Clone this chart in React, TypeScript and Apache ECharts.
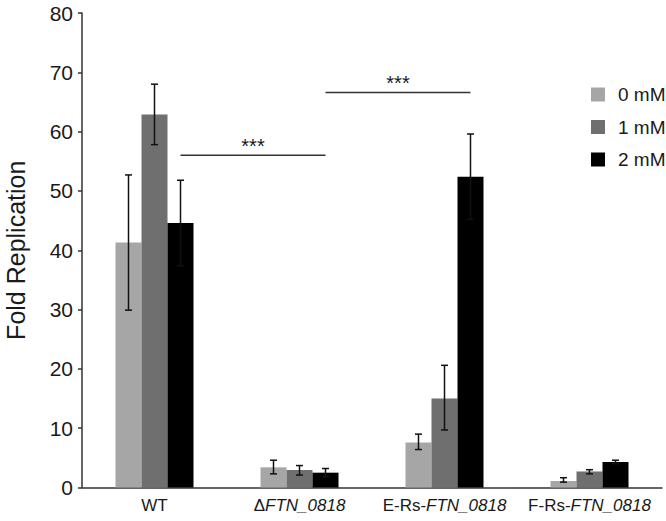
import React, { useEffect, useRef } from "react";
import * as echarts from "echarts";

const categories = ["WT", "ΔFTN_0818", "E-Rs-FTN_0818", "F-Rs-FTN_0818"];
const seriesNames = ["0 mM", "1 mM", "2 mM"];
const colors = ["#a6a6a6", "#6f6f6f", "#000000"];

const values0 = [41.3, 3.4, 7.6, 1.1];
const values1 = [62.9, 2.95, 15.0, 2.7];
const values2 = [44.6, 2.5, 52.4, 4.3];

const errLow0 = [29.9, 2.3, 6.4, 0.9];
const errHigh0 = [52.7, 4.6, 9.0, 1.65];
const errLow1 = [57.8, 2.1, 9.7, 2.3];
const errHigh1 = [68.0, 3.7, 20.6, 3.0];
const errLow2 = [37.4, 1.8, 45.2, 4.0];
const errHigh2 = [51.8, 3.2, 59.6, 4.6];

// [from category, to category, y level]
const sigLines = [
  [0, 1, 56],
  [1, 2, 66.6],
];
const sigLabel = "***";

const yTicks = { min: 0, max: 80, interval: 10 };

const BAR_W = 26;
const FONT = "'Liberation Sans', Arial, sans-serif";
const TXT = "#1a1a1a";

export default function App() {
  const ref = useRef<HTMLDivElement>(null);

  useEffect(() => {
    if (!ref.current) return;
    const chart = echarts.init(ref.current, undefined, { renderer: "svg" });

    const values = [values0, values1, values2];
    const lows = [errLow0, errLow1, errLow2];
    const highs = [errHigh0, errHigh1, errHigh2];

    const barSeries = seriesNames.map((name, i) => ({
      name,
      type: "bar",
      data: values[i],
      barWidth: BAR_W,
      barGap: "0%",
      itemStyle: { color: colors[i] },
      z: 2,
    }));

    const errSeries = seriesNames.map((name, i) => ({
      name: name + " err",
      type: "custom",
      z: 5,
      data: categories.map((_, c) => [c, lows[i][c], highs[i][c]]),
      renderItem: (params: any, api: any) => {
        const c = api.value(0);
        const lo = api.coord([c, api.value(1)]);
        const hi = api.coord([c, api.value(2)]);
        const x = lo[0] + (i - 1) * BAR_W;
        const cap = 3.5;
        const style = { stroke: "#111", lineWidth: 1.5 };
        return {
          type: "group",
          children: [
            { type: "line", shape: { x1: x, y1: lo[1], x2: x, y2: hi[1] }, style },
            { type: "line", shape: { x1: x - cap, y1: hi[1], x2: x + cap, y2: hi[1] }, style },
            { type: "line", shape: { x1: x - cap, y1: lo[1], x2: x + cap, y2: lo[1] }, style },
          ],
        };
      },
    }));

    const sigSeries = {
      name: "sig",
      type: "custom",
      z: 6,
      data: sigLines,
      renderItem: (params: any, api: any) => {
        const a = api.coord([api.value(0), api.value(2)]);
        const b = api.coord([api.value(1), api.value(2)]);
        const x1 = a[0] + BAR_W;
        const x2 = b[0] + BAR_W;
        return {
          type: "group",
          children: [
            {
              type: "line",
              shape: { x1, y1: a[1], x2, y2: a[1] },
              style: { stroke: "#333", lineWidth: 1.5 },
            },
            {
              type: "text",
              x: (x1 + x2) / 2,
              y: a[1] - 9,
              style: {
                text: sigLabel,
                fill: TXT,
                font: `20px ${FONT}`,
                align: "center",
                verticalAlign: "middle",
              },
            },
          ],
        };
      },
    };

    chart.setOption({
      animation: false,
      backgroundColor: "#ffffff",
      grid: {
        left: 82,
        right: 4,
        top: 13,
        bottom: 33.5,
        containLabel: false,
        outerBoundsMode: "none",
      },
      legend: {
        data: seriesNames,
        orient: "vertical",
        left: 586,
        top: 80,
        icon: "rect",
        itemWidth: 14,
        itemHeight: 14,
        itemGap: 13.5,
        textStyle: { fontSize: 19, color: TXT, fontFamily: FONT, padding: [0, 0, 0, 8] },
      },
      xAxis: {
        type: "category",
        data: categories,
        axisLine: { lineStyle: { color: "#333", width: 1.5 } },
        axisTick: { show: false },
        axisLabel: {
          interval: 0,
          hideOverlap: false,
          margin: 9,
          fontSize: 17,
          color: TXT,
          fontFamily: FONT,
          formatter: (v: string) => {
            const idx = v.indexOf("FTN_0818");
            if (idx < 0) return `{n|${v}}`;
            const pre = v.slice(0, idx);
            return (pre ? `{n|${pre}}` : "") + `{i|FTN_0818}`;
          },
          rich: {
            n: { fontSize: 17, color: TXT, fontFamily: FONT },
            i: { fontSize: 17, color: TXT, fontFamily: FONT, fontStyle: "italic" },
          },
        },
      },
      yAxis: {
        type: "value",
        min: yTicks.min,
        max: yTicks.max,
        interval: yTicks.interval,
        name: "Fold Replication",
        nameLocation: "middle",
        nameRotate: 90,
        nameGap: 53,
        nameTextStyle: { fontSize: 25, color: TXT, fontFamily: FONT, lineHeight: 26 },
        axisLine: { show: true, lineStyle: { color: "#333", width: 1.5 } },
        axisTick: { show: true, length: 4, lineStyle: { color: "#333", width: 1.5 } },
        axisLabel: { fontSize: 21, color: TXT, fontFamily: FONT, margin: 9 },
        splitLine: { show: false },
      },
      series: [...barSeries, ...errSeries, sigSeries],
    });

    return () => chart.dispose();
  }, []);

  return (
    <div
      ref={ref}
      style={{ position: "fixed", left: 0, top: 0, width: 666, height: 521, background: "#fff" }}
    />
  );
}
